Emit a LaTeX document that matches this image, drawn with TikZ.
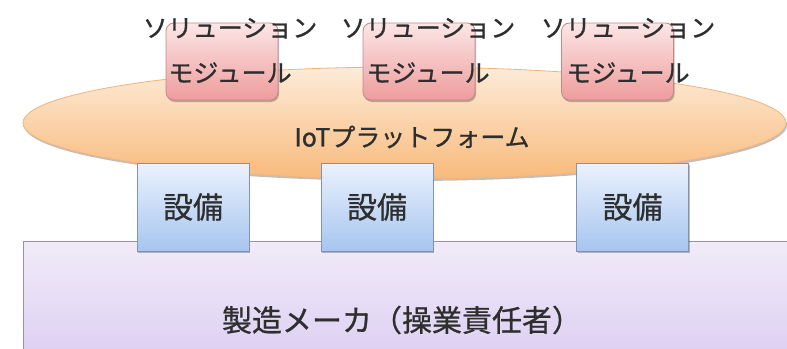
\documentclass[tikz,border=0pt]{standalone}
\usepackage{fontspec}
\newfontfamily\jp[FakeBold=0.8]{Noto Sans CJK JP}
\usetikzlibrary{shapes.geometric,shadows}
\definecolor{txt}{HTML}{2E2E2E}
\definecolor{purtop}{HTML}{F1EBF8}
\definecolor{purbot}{HTML}{D2C1F0}
\definecolor{purline}{HTML}{9A90A8}
\definecolor{bluetop}{HTML}{EBF2FC}
\definecolor{bluebot}{HTML}{A7C5F0}
\definecolor{blueline}{HTML}{7F93B5}
\definecolor{pinktop}{HTML}{FCE6E6}
\definecolor{pinkbot}{HTML}{EE9C9C}
\definecolor{pinkline}{HTML}{C48888}
\definecolor{ortop}{HTML}{FDEBD8}
\definecolor{orbot}{HTML}{F8BA7C}
\definecolor{orline}{HTML}{F2B47C}
\tikzset{
  shad/.style={drop shadow={shadow xshift=1pt,shadow yshift=-2pt,opacity=0.25,fill=black}},
  equip/.style={draw=blueline,line width=0.8pt,top color=bluetop,bottom color=bluebot,
    minimum width=112pt,minimum height=88pt,inner sep=0pt,outer sep=0pt,shad,
    text=txt,font=\jp\fontsize{30}{36}\selectfont},
  modbox/.style={draw=pinkline,line width=0.8pt,rounded corners=8pt,top color=pinktop,bottom color=pinkbot,
    minimum width=112pt,minimum height=77pt,inner sep=0pt,outer sep=0pt,shad},
  modlabel/.style={align=center,text=txt,inner sep=0pt,font=\jp\fontsize{25}{45}\selectfont},
}
\begin{document}
\begin{tikzpicture}[x=1pt,y=-1pt]
\useasboundingbox (0,0) rectangle (787,348);
\clip (0,0) rectangle (787,348);
\fill[white] (0,0) rectangle (787,348);
% manufacturer
\path[draw=purline,line width=0.8pt,top color=purtop,bottom color=purbot] (23,241) rectangle (820,420);
\node[text=txt,font=\jp\fontsize{30}{36}\selectfont,inner sep=0pt] (maker) at (402,320) {製造メーカ（操業責任者）};
% platform
\node[ellipse,draw=orline,line width=0.8pt,top color=ortop,bottom color=orbot,minimum width=763pt,minimum height=112pt,inner sep=0pt,shad] (plat) at (404.5,123) {};
\node[text=txt,font=\jp\fontsize{25}{30}\selectfont,inner sep=0pt] (iot) at (412,137) {IoTプラットフォーム};
% equipment
\node[equip] (e1) at (193,207) {設備};
\node[equip] (e2) at (377,207) {設備};
\node[equip] (e3) at (632.5,207) {設備};
% modules
\node[modbox] (m1) at (222,61.5) {};
\node[modbox] (m2) at (419,61.5) {};
\node[modbox] (m3) at (617.5,61.5) {};
\node[modlabel] (l1) at (230,50.5) {ソリューション\\モジュール};
\node[modlabel] (l2) at (428,50.5) {ソリューション\\モジュール};
\node[modlabel] (l3) at (628,50.5) {ソリューション\\モジュール};
\end{tikzpicture}
\end{document}
